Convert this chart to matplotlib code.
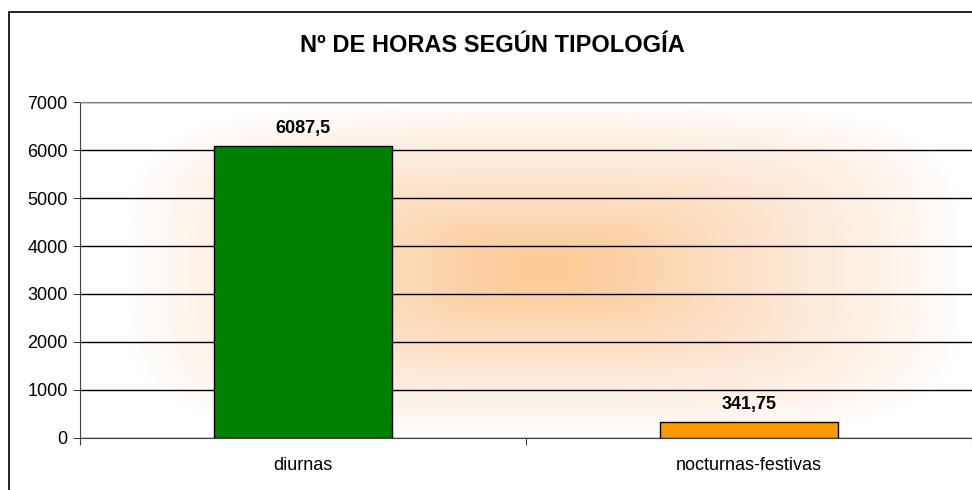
import numpy as np
import matplotlib
matplotlib.use('Agg')
import matplotlib.pyplot as plt
from matplotlib.colors import LinearSegmentedColormap
from matplotlib.patches import Rectangle

plt.rcParams['font.family'] = ['Liberation Sans', 'DejaVu Sans']

categorias = ['diurnas', 'nocturnas-festivas']
horas = [6087.5, 341.75]
etiquetas = ['6087,5', '341,75']
colores = ['#008000', '#FF9900']
titulo = 'Nº DE HORAS SEGÚN TIPOLOGÍA'

fig = plt.figure(figsize=(9.72, 4.9), dpi=100)
ax = fig.add_axes([80/972, 1-438/490, 892/972, 336/490])

# fondo degradado desde el centro
nx, ny = 400, 200
gx, gy = np.meshgrid(np.linspace(0, 1, nx), np.linspace(0, 1, ny))
dx = np.abs(gx - 0.52) / 0.47
dy = np.abs(gy - 0.5) / 0.5
d = (dx**4 + dy**4) ** (1/4)
inten = np.clip(1 - d, 0, 1) ** 0.85
cmap = LinearSegmentedColormap.from_list('fondo', ['#FFFFFF', '#FDE6D2', '#FCC892'])
ax.imshow(inten, cmap=cmap, vmin=0, vmax=1, extent=[0, 1, 0, 1], transform=ax.transAxes,
          aspect='auto', zorder=-2, interpolation='bilinear')

x = np.arange(len(categorias))
barras = ax.bar(x, horas, width=0.4, color=colores, edgecolor='black', linewidth=1, zorder=3)
for xi, h, et in zip(x, horas, etiquetas):
    ax.annotate(et, (xi, h), xytext=(0, 6), textcoords='offset points', ha='center', va='bottom',
                fontsize=13, fontweight='bold', zorder=4)

ax.set_xlim(-0.5, 1.5)
ax.set_ylim(0, 7000)
ax.set_yticks(np.arange(0, 7001, 1000))
ax.yaxis.grid(True, color='black', linewidth=1)
ax.set_axisbelow(True)

ax.set_xticks([-0.5, 0.5, 1.5])
ax.set_xticklabels([])
ax.set_xticks(x, minor=True)
ax.set_xticklabels(categorias, minor=True)
ax.tick_params(axis='x', which='minor', length=0, pad=14, labelsize=13)
ax.tick_params(axis='x', which='major', length=5, color='#404040')
ax.tick_params(axis='y', length=5, pad=4, labelsize=13, color='#404040')

ax.spines['right'].set_visible(False)
ax.spines['top'].set_color('#808080')
ax.spines['left'].set_color('#404040')
ax.spines['bottom'].set_color('#404040')

fig.text(492/972, 1-45/490, titulo, ha='center', va='center', fontsize=17, fontweight='bold')

# marco del grafico
marco = Rectangle((9/972, -0.1), 1.2, 1-12/490+0.1, transform=fig.transFigure, fill=False,
                  edgecolor='black', linewidth=1.2)
fig.patches.append(marco)

fig.savefig('out.png', dpi=100)
